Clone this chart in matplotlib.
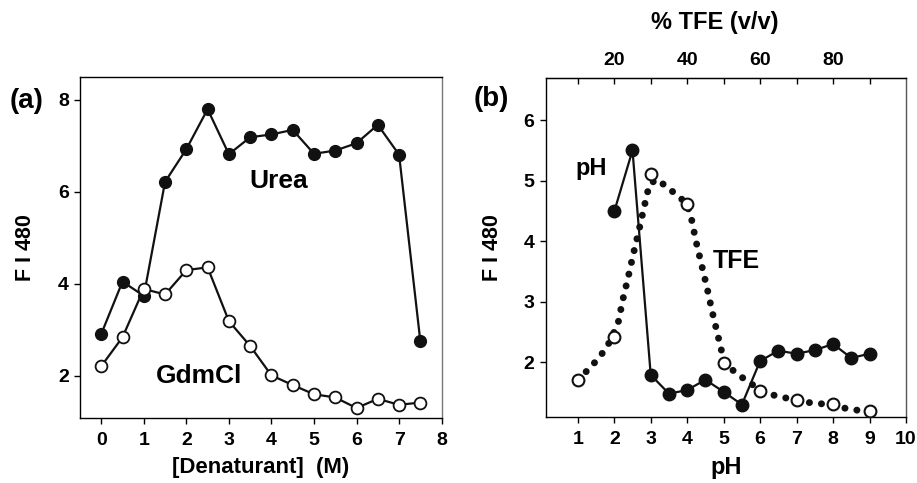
import matplotlib
matplotlib.use("Agg")
import matplotlib.pyplot as plt

plt.rcParams['font.family'] = ['Liberation Sans', 'DejaVu Sans']
plt.rcParams['font.weight'] = 'bold'

# ---- Panel (a) data ----
denaturant = [0, 0.5, 1, 1.5, 2, 2.5, 3, 3.5, 4, 4.5, 5, 5.5, 6, 6.5, 7, 7.5]
urea = [2.91, 4.05, 3.74, 6.22, 6.93, 7.80, 6.82, 7.19, 7.25, 7.35, 6.83, 6.90, 7.06, 7.46, 6.81, 2.75]
gdmcl = [2.21, 2.84, 3.89, 3.77, 4.30, 4.36, 3.19, 2.65, 2.01, 1.80, 1.60, 1.53, 1.30, 1.50, 1.37, 1.42]
a_xticks = [0, 1, 2, 3, 4, 5, 6, 7, 8]
a_yticks = [2, 4, 6, 8]

# ---- Panel (b) data ----
ph_x = [2, 2.5, 3, 3.5, 4, 4.5, 5, 5.5, 6, 6.5, 7, 7.5, 8, 8.5, 9]
ph_y = [4.49, 5.50, 1.79, 1.48, 1.54, 1.71, 1.51, 1.30, 2.02, 2.19, 2.14, 2.20, 2.30, 2.07, 2.14]
tfe_pct = [10, 20, 30, 40, 50, 60, 70, 80, 90]
tfe_y = [1.70, 2.42, 5.11, 4.62, 1.99, 1.53, 1.37, 1.31, 1.20]
# dotted trend curve (x in % TFE)
tfe_curve_pct = [10, 12.7, 15.5, 18.0, 21.0, 22.3, 23.8, 25.2, 26.7, 28.1, 29.6, 31.5,
                 33.7, 37.2, 39.9, 41.1, 42.4, 43.9, 45.4, 46.8, 48.3, 49.8, 51.6,
                 54.8, 60.0, 61.6, 65.0, 70.0, 71.4, 75.1, 80.0, 81.5, 85.1, 90.0]
tfe_curve_y = [1.70, 1.87, 2.05, 2.25, 2.63, 3.02, 3.40, 3.78, 4.16, 4.54, 4.93, 5.02,
               4.93, 4.76, 4.62, 4.39, 4.00, 3.62, 3.24, 2.85, 2.47, 2.09, 1.91,
               1.76, 1.54, 1.50, 1.43, 1.38, 1.35, 1.32, 1.30, 1.26, 1.22, 1.18]
b_xticks = [1, 2, 3, 4, 5, 6, 7, 8, 9, 10]
b_yticks = [2, 3, 4, 5, 6]
top_ticks = [10, 20, 30, 40, 50, 60, 70, 80, 90]
top_labels = ['', '20', '', '40', '', '60', '', '80', '']

fig = plt.figure(figsize=(9.17, 4.83), dpi=100)
axa = fig.add_axes([0.0872, 0.1352, 0.3944, 0.7054])
axb = fig.add_axes([0.5951, 0.1373, 0.3929, 0.7019])

K = '#111111'
ms = 8.5
TL = 14

# Panel (a)
axa.plot(denaturant, urea, '-o', color=K, lw=1.6, ms=ms, mfc=K, mec=K, zorder=3)
axa.plot(denaturant, gdmcl, '-o', color=K, lw=1.6, ms=ms, mfc='white', mec=K, mew=1.3, zorder=4)
axa.set_xlim(-0.5, 8)
axa.set_ylim(1.09, 8.5)
axa.set_xticks(a_xticks)
axa.set_yticks(a_yticks)
axa.set_xlabel('[Denaturant]  (M)', fontsize=16, fontweight='bold', labelpad=6)
axa.set_ylabel('F I 480', fontsize=15.5, fontweight='bold', labelpad=16)
axa.text(4.18, 6.08, 'Urea', fontsize=19, fontweight='bold', ha='center', va='baseline')
axa.text(2.29, 1.84, 'GdmCl', fontsize=19, fontweight='bold', ha='center', va='baseline')
axa.spines['right'].set_color('#777777')

# Panel (b)
tfe_curve_ph = [p / 10 for p in tfe_curve_pct]
tfe_ph = [p / 10 for p in tfe_pct]
axb.plot(tfe_curve_ph, tfe_curve_y, color=K, lw=5.0, linestyle=(0, (0.02, 1.72)),
         dash_capstyle='round', solid_capstyle='round', zorder=2)
axb.plot(ph_x, ph_y, '-o', color=K, lw=1.6, ms=ms + 0.5, mfc=K, mec=K, zorder=3)
axb.plot(tfe_ph, tfe_y, 'o', ms=ms, mfc='white', mec=K, mew=1.5, zorder=4)
axb.set_xlim(0.12, 10)
axb.set_ylim(1.1, 6.7)
axb.set_xticks(b_xticks)
axb.set_yticks(b_yticks)
axb.set_xlabel('pH', fontsize=17, fontweight='bold', labelpad=6)
axb.set_ylabel('F I 480', fontsize=15.5, fontweight='bold', labelpad=15)
axb.text(1.36, 5.09, 'pH', fontsize=17, fontweight='bold', ha='center', va='baseline')
axb.text(5.36, 3.55, 'TFE', fontsize=18, fontweight='bold', ha='center', va='baseline')
axb.spines['right'].set_color('#555555')

sec = axb.secondary_xaxis('top', functions=(lambda x: x * 10, lambda x: x / 10))
sec.set_xticks(top_ticks)
sec.set_xticklabels(top_labels)
sec.tick_params(direction='in', length=4, width=1, labelsize=TL, pad=6)
for lab in sec.get_xticklabels():
    lab.set_fontweight('bold')
fig.text(715 / 917, 1 - 23 / 483, '% TFE (v/v)', fontsize=17, fontweight='bold',
         ha='center', va='center')

for ax in (axa, axb):
    ax.tick_params(direction='out', length=4, width=1, labelsize=TL, pad=4)
    ax.tick_params(axis='x', pad=6)
    for lab in ax.get_xticklabels() + ax.get_yticklabels():
        lab.set_fontweight('bold')
    for s in ax.spines.values():
        s.set_linewidth(1.0)

fig.text(10 / 917, 1 - 108 / 483, '(a)', fontsize=20, fontweight='bold', ha='left', va='baseline')
fig.text(474 / 917, 1 - 106 / 483, '(b)', fontsize=20, fontweight='bold', ha='left', va='baseline')

fig.savefig('out.png', dpi=100)
